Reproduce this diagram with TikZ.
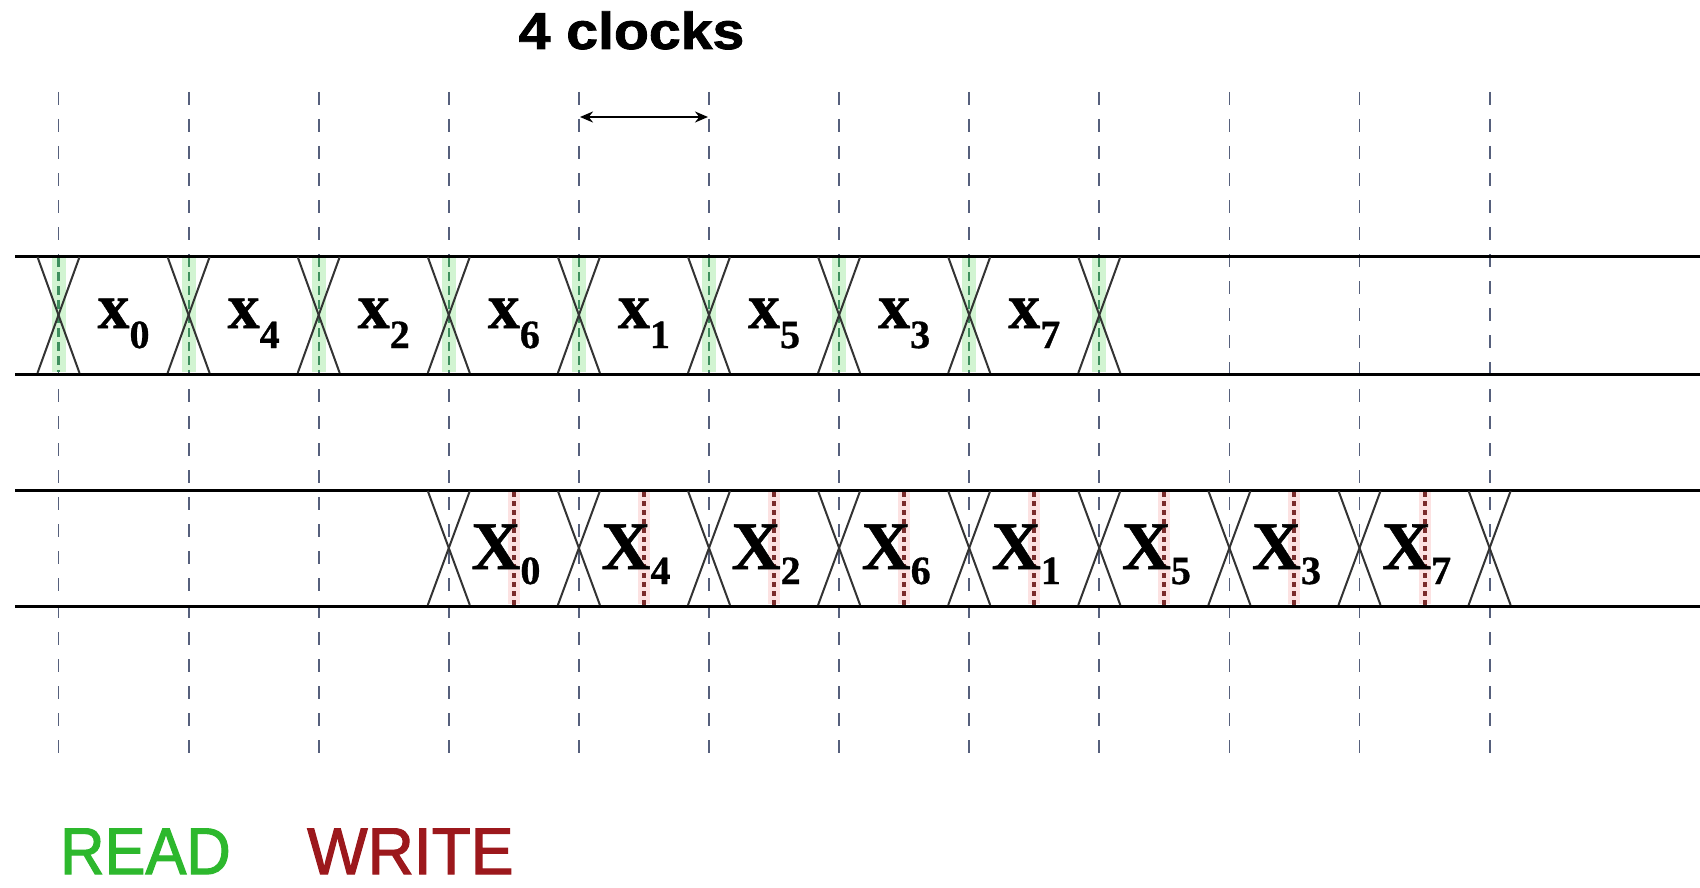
\documentclass[tikz,border=0pt]{standalone}
\usepackage{fontspec}
\setmainfont{Liberation Serif}
\newfontfamily\sansfam{Liberation Sans}
\newfontfamily\clockfont[FakeBold=1.5]{Liberation Sans Bold}
\newfontfamily\legendfont[FakeBold=1.8]{Liberation Sans}
\newfontfamily\labelfont[FakeBold=0.8]{Liberation Serif Bold}
\usetikzlibrary{arrows.meta}
\definecolor{gridblue}{HTML}{56607C}
\definecolor{readgreen}{HTML}{2DB82D}
\definecolor{writered}{HTML}{9C181C}
\definecolor{bandgreen}{HTML}{D2F4D2}
\definecolor{linegreen}{HTML}{3F8F5F}
\definecolor{bandpink}{HTML}{FCE2E2}
\definecolor{dotred}{HTML}{7A2C2C}
\begin{document}
\begin{tikzpicture}[x=1pt,y=-1pt,
  gridline/.style={draw=gridblue,line width=1.8pt,dash pattern=on 13pt off 14pt},
  rowline/.style={draw=black,line width=3pt},
  crossline/.style={draw=black!80,line width=2pt},
  greendash/.style={draw=linegreen,line width=2.2pt,dash pattern=on 9pt off 5pt},
  reddot/.style={draw=dotred,line width=4pt,dash pattern=on 5pt off 4pt},
  toplabel/.style={anchor=base,inner sep=0pt},
  botlabel/.style={anchor=base,inner sep=0pt}]
\useasboundingbox[fill=white] (0,0) rectangle (1700,888);

% bands
\foreach \i in {0,...,8}{
  \pgfmathsetmacro{\gx}{58.5+130.1*\i}
  \fill[bandgreen] (\gx-7,258) rectangle (\gx+7,372);
}
\foreach \i in {3,...,10}{
  \pgfmathsetmacro{\mx}{58.5+130.1*(\i+0.5)}
  \fill[bandpink] (\mx-6,492) rectangle (\mx+6,604);
}

% vertical dashed grid lines
\foreach \i in {0,...,11}{
  \pgfmathsetmacro{\gx}{58.5+130.1*\i}
  \coordinate (gt\i) at (\gx,92);
  \coordinate (gb\i) at (\gx,764);
  \draw[gridline] (gt\i) -- (gb\i);
}
% green overlay in the read row
\foreach \i in {0,...,8}{
  \pgfmathsetmacro{\gx}{58.5+130.1*\i}
  \fill[bandgreen] (\gx-4,258) rectangle (\gx+4,372);
  \draw[greendash] (\gx,258) -- (\gx,372);
}
% red dotted write lines
\foreach \i in {3,...,10}{
  \pgfmathsetmacro{\mx}{58.5+130.1*(\i+0.5)}
  \draw[reddot] (\mx,492) -- (\mx,606);
}

% row lines
\coordinate (r1a) at (15,256);  \coordinate (r1b) at (1700,256);
\coordinate (r2a) at (15,374);  \coordinate (r2b) at (1700,374);
\coordinate (r3a) at (15,490);  \coordinate (r3b) at (1700,490);
\coordinate (r4a) at (15,606);  \coordinate (r4b) at (1700,606);
\draw[rowline] (r1a) -- (r1b);
\draw[rowline] (r2a) -- (r2b);
\draw[rowline] (r3a) -- (r3b);
\draw[rowline] (r4a) -- (r4b);

% crosses
\foreach \i in {0,...,8}{
  \pgfmathsetmacro{\gx}{58.5+130.1*\i}
  \draw[crossline] (\gx-21,257) -- (\gx+21,373);
  \draw[crossline] (\gx+21,257) -- (\gx-21,373);
}
\foreach \i in {3,...,11}{
  \pgfmathsetmacro{\gx}{58.5+130.1*\i}
  \draw[crossline] (\gx-21,491) -- (\gx+21,605);
  \draw[crossline] (\gx+21,491) -- (\gx-21,605);
}

% top row labels
\foreach \s [count=\k from 0] in {0,4,2,6,1,5,3,7}{
  \pgfmathsetmacro{\cx}{58.5+130.1*(\k+0.5)}
  \node[toplabel] (tx\k) at (\cx,328)
    {\labelfont\fontsize{64}{64}\selectfont x\raisebox{-20pt}{\fontsize{40}{40}\selectfont \s}};
}
% bottom row labels
\foreach \s [count=\k from 0] in {0,4,2,6,1,5,3,7}{
  \pgfmathsetmacro{\cx}{58.5+130.1*(\k+3.5)-8}
  \node[botlabel] (bx\k) at (\cx,569)
    {\labelfont\fontsize{68}{68}\selectfont X\raisebox{-15pt}{\fontsize{40}{40}\selectfont \s}};
}

% 4 clocks
\node[anchor=base,inner sep=0pt] (clk) at (631.5,49)
  {\clockfont\fontsize{52}{52}\selectfont\scalebox{1.1}[1]{4 clocks}};
\coordinate (arL) at (580,117);
\coordinate (arR) at (708,117);
\draw[line width=2pt,{Stealth[length=13pt,width=11pt]}-{Stealth[length=13pt,width=11pt]}] (arL) -- (arR);

% legend
\node[anchor=base west,inner sep=0pt,text=readgreen] (rd) at (60,874)
  {\legendfont\fontsize{66}{66}\selectfont\scalebox{0.93}[1]{READ}};
\node[anchor=base west,inner sep=0pt,text=writered] (wr) at (307,874)
  {\legendfont\fontsize{66}{66}\selectfont\scalebox{0.97}[1]{WRITE}};
\end{tikzpicture}
\end{document}
